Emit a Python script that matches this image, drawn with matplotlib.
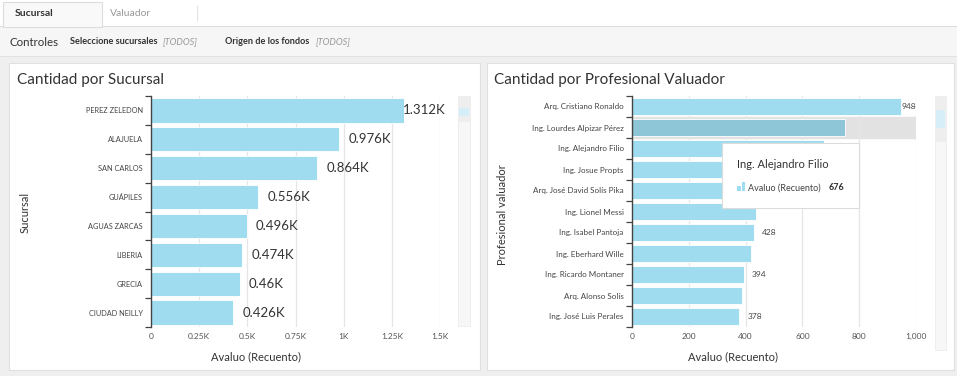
import matplotlib
matplotlib.use("Agg")
import matplotlib.pyplot as plt
from matplotlib.patches import Rectangle, FancyBboxPatch
import numpy as np

plt.rcParams['font.family'] = ['Lato', 'DejaVu Sans']

# ---------------- data ----------------
sucursales = ["PEREZ ZELEDON", "ALAJUELA", "SAN CARLOS", "GUÁPILES",
              "AGUAS ZARCAS", "LIBERIA", "GRECIA", "CIUDAD NEILLY"]
suc_values = [1312, 976, 864, 556, 496, 474, 460, 426]
suc_ticks = [0, 250, 500, 750, 1000, 1250, 1500]
suc_ticklabels = ["0", "0.25K", "0.5K", "0.75K", "1K", "1.25K", "1.5K"]

valuadores = ["Arq. Cristiano Ronaldo", "Ing. Lourdes Alpizar Pérez",
              "Ing. Alejandro Filio", "Ing. Josue Propts",
              "Arq. José David Solís Pika", "Ing. Lionel Messi",
              "Ing. Isabel Pantoja", "Ing. Eberhard Wille",
              "Ing. Ricardo Montaner", "Arq. Alonso Solís",
              "Ing. José Luis Perales"]
val_values = [948, 751, 676, 560, 480, 435, 428, 418, 394, 386, 378]
val_label_shown = [True, False, False, False, False, False, True, False, True, False, True]
val_ticks = [0, 200, 400, 600, 800, 1000]
val_ticklabels = ["0", "200", "400", "600", "800", "1,000"]
highlight_idx = 1
tooltip_idx = 2

# ---------------- style ----------------
W, H = 957, 376
BAR = "#a0dcef"
BAR_HI = "#8ec6d8"
TXT = "#333333"
GRID = "#e6e6e6"

fig = plt.figure(figsize=(W / 100, H / 100), dpi=100)
fig.patch.set_facecolor("#efefef")


def rect(x0, y0, x1, y1, fc, ec="none", lw=0.8, z=-5):
    fig.patches.append(Rectangle((x0 / W, 1 - y1 / H), (x1 - x0) / W, (y1 - y0) / H,
                                 transform=fig.transFigure, facecolor=fc,
                                 edgecolor=ec, linewidth=lw, zorder=z))


def ftext(x, y, s, **kw):
    fig.text(x / W, 1 - y / H, s, **kw)


# top strip with tabs
rect(0, 0, W, 26, "white")
rect(3, 2, 102, 27, "#f9f9f9", ec="#dddddd", z=-4)
fig.lines.append(plt.Line2D([0, 1], [1 - 26 / H] * 2, transform=fig.transFigure,
                            color="#dddddd", lw=0.8, zorder=-4.5))
fig.lines.append(plt.Line2D([197 / W] * 2, [1 - 6 / H, 1 - 20 / H], transform=fig.transFigure,
                            color="#e3e3e3", lw=0.8, zorder=-4))
ftext(15, 14, "Sucursal", fontsize=7.5, fontweight="bold", color=TXT, va="center")
ftext(110, 14, "Valuador", fontsize=7.5, color="#999999", va="center")
# controls bar
rect(0, 27, W, 56, "#f6f6f6")
fig.lines.append(plt.Line2D([0, 1], [1 - 56 / H] * 2, transform=fig.transFigure,
                            color="#e2e2e2", lw=0.8, zorder=-4))
ftext(10, 42, "Controles", fontsize=8.3, color=TXT, va="center")
ftext(70, 42, "Seleccione sucursales", fontsize=6.6, fontweight="bold", color=TXT, va="center")
ftext(163, 42, "[TODOS]", fontsize=6.6, style="italic", color="#999999", va="center")
ftext(225, 42, "Origen de los fondos", fontsize=6.6, fontweight="bold", color=TXT, va="center")
ftext(316, 42, "[TODOS]", fontsize=6.6, style="italic", color="#999999", va="center")

# panels
rect(9, 63, 480, 370, "white", ec="#e0e0e0", z=-3)
rect(487, 63, 954, 370, "white", ec="#e0e0e0", z=-3)
ftext(17, 80, "Cantidad por Sucursal", fontsize=11, color=TXT, va="center")
ftext(494, 80, "Cantidad por Profesional Valuador", fontsize=11, color=TXT, va="center")

# scroll tracks
rect(458, 96, 470, 326, "#f7f7f7", ec="#ececec", lw=0.6, z=-2)
rect(458, 96, 470, 122, "#eeeeee", z=-1.5)
rect(459, 108, 469, 116, "#d6eef7", z=-1)
rect(935, 96, 946, 350, "#f7f7f7", ec="#ececec", lw=0.6, z=-2)
rect(935, 96, 946, 142, "#eeeeee", z=-1.5)
rect(936, 110, 945, 128, "#d6eef7", z=-1)


def setup_axes(ax, names, ticks, ticklabels, xmax, labelsize):
    n = len(names)
    ax.set_zorder(1)
    ax.set_xlim(0, xmax)
    ax.set_ylim(n - 0.5, -0.5)
    ax.set_xticks(ticks)
    ax.set_xticklabels(ticklabels, fontsize=6, color="#555555")
    ax.set_yticks(range(n))
    ax.set_yticklabels(names, fontsize=labelsize, color="#444444")
    ax.set_yticks(np.arange(-0.5, n, 1), minor=True)
    ax.tick_params(axis="y", which="major", length=0, pad=6)
    ax.tick_params(axis="y", which="minor", length=4, width=0.9, color="#444444")
    ax.tick_params(axis="x", length=0, pad=4)
    for s in ["top", "right", "bottom"]:
        ax.spines[s].set_visible(False)
    ax.spines["left"].set_color("#444444")
    ax.spines["left"].set_linewidth(1.0)
    ax.xaxis.grid(True, color=GRID, lw=0.9)
    ax.set_axisbelow(True)
    ax.set_facecolor("none")


# ---------------- left chart ----------------
axL = fig.add_axes([151 / W, 1 - 327 / H, 289 / W, 231 / H])
setup_axes(axL, sucursales, suc_ticks, suc_ticklabels, 1500, 5.3)
yl = np.arange(len(sucursales))
axL.barh(yl, suc_values, height=0.84, color=BAR, edgecolor="white", lw=0.6)
for y, v in zip(yl, suc_values):
    axL.text(min(v + 48, 1305), y, f"{v / 1000:g}K", va="center", ha="left",
             fontsize=9.5, color=TXT, clip_on=False)
ftext(256, 357, "Avaluo (Recuento)", fontsize=8, color=TXT, ha="center", va="center")
ftext(25, 212, "Sucursal", fontsize=8, color=TXT, ha="center", va="center", rotation=90)

# ---------------- right chart ----------------
axR = fig.add_axes([632 / W, 1 - 327 / H, 284 / W, 231 / H])
setup_axes(axR, valuadores, val_ticks, val_ticklabels, 1000, 5.8)
yr = np.arange(len(valuadores))
axR.axhspan(highlight_idx - 0.48, highlight_idx + 0.48, color="#e2e2e2", zorder=0.5)
colors = [BAR_HI if i == highlight_idx else BAR for i in yr]
axR.barh(yr, val_values, height=0.84, color=colors, edgecolor="white", lw=0.6, zorder=2)
for y, v, show in zip(yr, val_values, val_label_shown):
    if show:
        axR.text(min(v + 28, 950), y, f"{v}", va="center", ha="left",
                 fontsize=6, color="#444444", zorder=3, clip_on=False)
ftext(733, 357, "Avaluo (Recuento)", fontsize=8, color=TXT, ha="center", va="center")
ftext(503, 215, "Profesional valuador", fontsize=8, color=TXT, ha="center", va="center",
      rotation=90)

# tooltip
tt = FancyBboxPatch((722 / W, 1 - 208 / H), 137 / W, 65 / H,
                    boxstyle="square,pad=0", transform=fig.transFigure,
                    facecolor="white", edgecolor="#dcdcdc", lw=0.8, zorder=5)
fig.patches.append(tt)
ftext(737, 164, valuadores[tooltip_idx], fontsize=8, color=TXT, va="center", zorder=6)
rect(737, 186, 741, 191, BAR, z=6)
rect(742, 182, 745, 191, BAR, z=6)
ftext(748, 188, "Avaluo (Recuento)", fontsize=6.5, color="#444444", va="center", zorder=6)
ftext(829, 188, f"{val_values[tooltip_idx]}", fontsize=6.5, fontweight="bold",
      color=TXT, va="center", zorder=6)

fig.savefig("out.png", dpi=100, facecolor=fig.get_facecolor())
